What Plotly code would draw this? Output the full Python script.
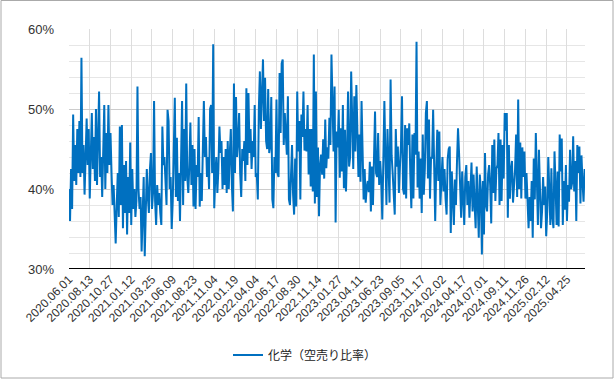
import plotly.graph_objects as go

# Tick labels on the category axis (one every 20 samples)
tick_labels = [
    "2020.06.01", "2020.08.13", "2020.10.27", "2021.01.12", "2021.03.25",
    "2021.06.09", "2021.08.23", "2021.11.04", "2022.01.19", "2022.04.04",
    "2022.06.17", "2022.08.30", "2022.11.14", "2023.01.27", "2023.04.11",
    "2023.06.23", "2023.09.05", "2023.11.17", "2024.02.02", "2024.04.17",
    "2024.07.01", "2024.09.11", "2024.11.26", "2025.02.12", "2025.04.25",
]
tick_step = 20

series_name = "化学（空売り比率）"

# Short-selling ratio (%)
ratio_2020 = [
    40.0, 36.0, 42.5, 37.5, 49.3, 41.0, 45.5, 40.5, 47.5, 42.0,
    48.5, 41.5, 56.4, 42.0, 45.5, 39.3, 44.0, 48.8, 43.0, 47.5,
    38.8, 44.0, 49.5, 42.5, 46.5, 41.0, 50.0, 40.5, 46.0, 52.2,
    41.5, 44.0, 39.0, 46.0, 50.5, 40.0, 47.0, 42.0, 50.5, 43.0,
    47.0, 42.0, 38.0, 40.5, 37.0, 33.2, 38.0, 42.0, 36.5, 47.8,
    38.0, 48.0, 35.1, 43.0, 37.0, 43.5, 34.3, 41.5, 37.0, 45.8,
    35.5, 42.5, 37.5, 40.0, 36.5, 38.5, 52.8, 40.0, 37.5, 39.0,
    32.2, 38.5, 41.5, 31.6, 38.0, 42.5, 39.0, 37.0, 42.5, 44.5,
    37.5, 39.5, 51.0, 38.5, 35.5, 40.5, 38.0, 39.5, 37.0, 35.5,
    47.8, 43.0, 44.0, 39.5, 38.0, 49.9, 48.5, 40.0, 41.5, 35.0,
]
ratio_2021 = [
    38.5, 45.0, 51.4, 39.0, 46.4, 38.5, 42.0, 36.0, 44.0, 51.0,
    38.0, 47.5, 41.0, 53.2, 41.5, 39.5, 43.0, 48.3, 40.5, 45.5,
    37.8, 45.0, 37.5, 43.0, 41.5, 49.0, 37.8, 42.0, 38.5, 46.0,
    51.0, 44.0, 46.5, 41.5, 44.0, 40.0, 50.0, 50.5, 42.0, 58.1,
    37.6, 41.5, 44.0, 39.5, 42.5, 47.8, 44.5, 46.0, 40.0, 44.0,
    40.5, 45.0, 39.5, 46.0, 40.0, 44.5, 47.5, 40.5, 37.2, 53.2,
    42.0, 51.5, 44.0, 46.0, 49.5, 42.0, 39.0, 45.0, 43.5, 46.0,
    41.0, 52.6, 43.0, 52.0, 44.5, 47.5, 42.5, 46.0, 44.0, 50.5,
    41.5, 42.0, 38.7, 50.0, 54.7, 47.5, 52.0, 56.2, 48.5, 53.9,
    46.0, 45.0, 52.5, 44.5, 45.5, 51.5, 38.7, 37.6, 44.0, 42.0,
]
ratio_2022 = [
    51.2, 42.0, 41.5, 54.5, 47.0, 55.7, 56.2, 45.5, 49.5, 46.5,
    44.3, 51.6, 38.7, 38.0, 42.5, 45.5, 39.3, 36.8, 43.8, 37.8,
    52.2, 44.7, 48.5, 38.7, 49.3, 46.5, 52.2, 44.8, 47.5, 44.7,
    50.5, 41.8, 47.5, 40.3, 47.5, 39.7, 56.8, 38.2, 52.2, 39.0,
    45.2, 36.6, 43.0, 44.3, 41.8, 46.2, 41.3, 48.7, 42.6, 45.2,
    43.8, 48.9, 45.5, 56.8, 50.9, 44.7, 52.8, 35.8, 47.2, 45.2,
    49.9, 41.4, 47.6, 42.2, 50.5, 40.1, 47.4, 39.7, 44.7, 52.2,
    42.8, 44.0, 54.7, 49.7, 42.5, 51.6, 44.7, 53.0, 47.2, 41.5,
    46.8, 40.9, 51.0, 41.8, 38.7, 42.5, 38.3, 40.2, 41.0, 39.6,
    43.4, 37.2, 42.8, 38.0, 44.5, 49.7, 42.0, 41.5, 47.0, 40.5,
]
ratio_2023 = [
    43.5, 41.0, 36.2, 45.5, 51.0, 44.0, 38.0, 47.5, 41.0, 38.3,
    53.7, 44.2, 42.0, 38.5, 36.8, 47.5, 42.8, 45.3, 39.5, 42.8,
    45.5, 51.6, 40.0, 39.3, 48.0, 38.8, 47.6, 45.5, 48.2, 41.8,
    37.6, 46.8, 38.8, 47.0, 44.3, 58.4, 40.2, 44.7, 38.8, 43.8,
    37.0, 46.8, 39.3, 42.5, 49.5, 51.0, 41.3, 48.7, 38.8, 44.0,
    43.8, 49.9, 39.7, 36.0, 42.6, 47.4, 41.0, 47.2, 38.0, 41.5,
    44.0, 39.7, 42.5, 38.8, 36.8, 43.7, 45.0, 45.3, 34.5, 42.2,
    38.0, 35.5, 41.2, 38.0, 43.4, 47.6, 44.5, 38.8, 36.4, 42.2,
    39.3, 35.5, 41.5, 43.0, 38.0, 41.0, 36.4, 40.1, 43.3, 37.2,
    41.8, 38.0, 35.1, 42.8, 38.8, 33.9, 41.8, 39.7, 31.8, 41.0,
]
ratio_2024 = [
    34.3, 44.5, 38.0, 37.2, 41.8, 43.0, 40.5, 35.7, 45.5, 39.5,
    46.2, 38.5, 42.5, 43.0, 47.0, 38.0, 46.2, 38.5, 45.5, 41.3,
    49.5, 47.3, 49.5, 36.4, 45.5, 38.8, 42.5, 43.5, 38.3, 40.5,
    42.5, 46.8, 39.0, 51.2, 40.0, 45.8, 38.8, 45.2, 41.5, 44.7,
    38.8, 42.0, 37.8, 35.1, 39.0, 36.0, 41.0, 33.9, 43.8, 38.7,
    47.0, 39.3, 35.5, 44.9, 38.5, 35.1, 37.2, 41.5, 38.0, 40.3,
    34.1, 37.2, 44.0, 39.7, 35.5, 42.6, 36.4, 35.1, 44.7, 40.5,
    35.5, 42.2, 35.3, 46.8, 42.2, 46.3, 35.5, 41.0, 37.4, 43.0,
    36.0, 40.5, 38.4, 44.9, 40.0, 40.8, 46.6, 39.7, 43.5, 36.0,
    45.5, 42.0, 45.3, 38.2, 44.2, 40.9, 38.4, 42.5,
]

ratio = ratio_2020 + ratio_2021 + ratio_2022 + ratio_2023 + ratio_2024
x_idx = list(range(len(ratio)))
tick_vals = [i * tick_step for i in range(len(tick_labels))]

# Page geometry
W, H = 615, 380
ML, MR, MT, MB = 69, 30, 29, 111
PW, PH = W - ML - MR, H - MT - MB

def px_x(p):
    return (p - ML) / PW

def px_y(p):
    return (H - MB - p) / PH

fig = go.Figure()
fig.add_trace(go.Scatter(
    x=x_idx, y=ratio, mode="lines", name=series_name,
    line=dict(color="#0070C0", width=2),
    showlegend=True,
))

fig.update_layout(
    width=W, height=H,
    margin=dict(l=ML, r=MR, t=MT, b=MB, pad=0, autoexpand=False),
    paper_bgcolor="white", plot_bgcolor="white",
    font=dict(family="Liberation Sans, Arial, Noto Sans CJK JP", color="#333333", size=12),
    showlegend=True,
    legend=dict(
        orientation="h", x=px_x(305), xanchor="center",
        y=px_y(355), yanchor="middle",
        font=dict(size=12, color="#222222", family="Noto Sans CJK JP, Liberation Sans"),
        bgcolor="rgba(0,0,0,0)",
    ),
    shapes=[dict(
        type="rect", xref="paper", yref="paper",
        x0=px_x(1), x1=px_x(613), y0=px_y(378), y1=px_y(0.5),
        line=dict(color="#aaaaaa", width=1), fillcolor="rgba(0,0,0,0)", layer="below",
    )],
)

fig.update_xaxes(
    range=[0, 497.4], automargin=False,
    tickmode="array", tickvals=tick_vals, ticktext=tick_labels,
    tickangle=-45, tickfont=dict(size=12, color="#333333"),
    showgrid=True, gridcolor="#dddddd", gridwidth=1,
    showline=False, zeroline=False, ticks="",
)
fig.update_yaxes(
    range=[30, 60], automargin=False,
    tickmode="array", tickvals=[30, 40, 50, 60],
    ticktext=["30%", "40%", "50%", "60%"],
    tickfont=dict(size=13, color="#333333"),
    showgrid=True, gridcolor="#cccccc", gridwidth=1,
    minor=dict(tickmode="linear", tick0=30, dtick=2, showgrid=True, gridcolor="#e6e6e6", ticks=""),
    zeroline=False, showline=False, ticks="", ticklabelstandoff=14,
)
# baseline at 30%
fig.add_hline(y=30, line=dict(color="#000000", width=2), layer="above")

fig.write_html(
    "out.html",
    config={"displayModeBar": False},
    post_script="document.body.style.margin='0';document.body.style.overflow='hidden';",
)
